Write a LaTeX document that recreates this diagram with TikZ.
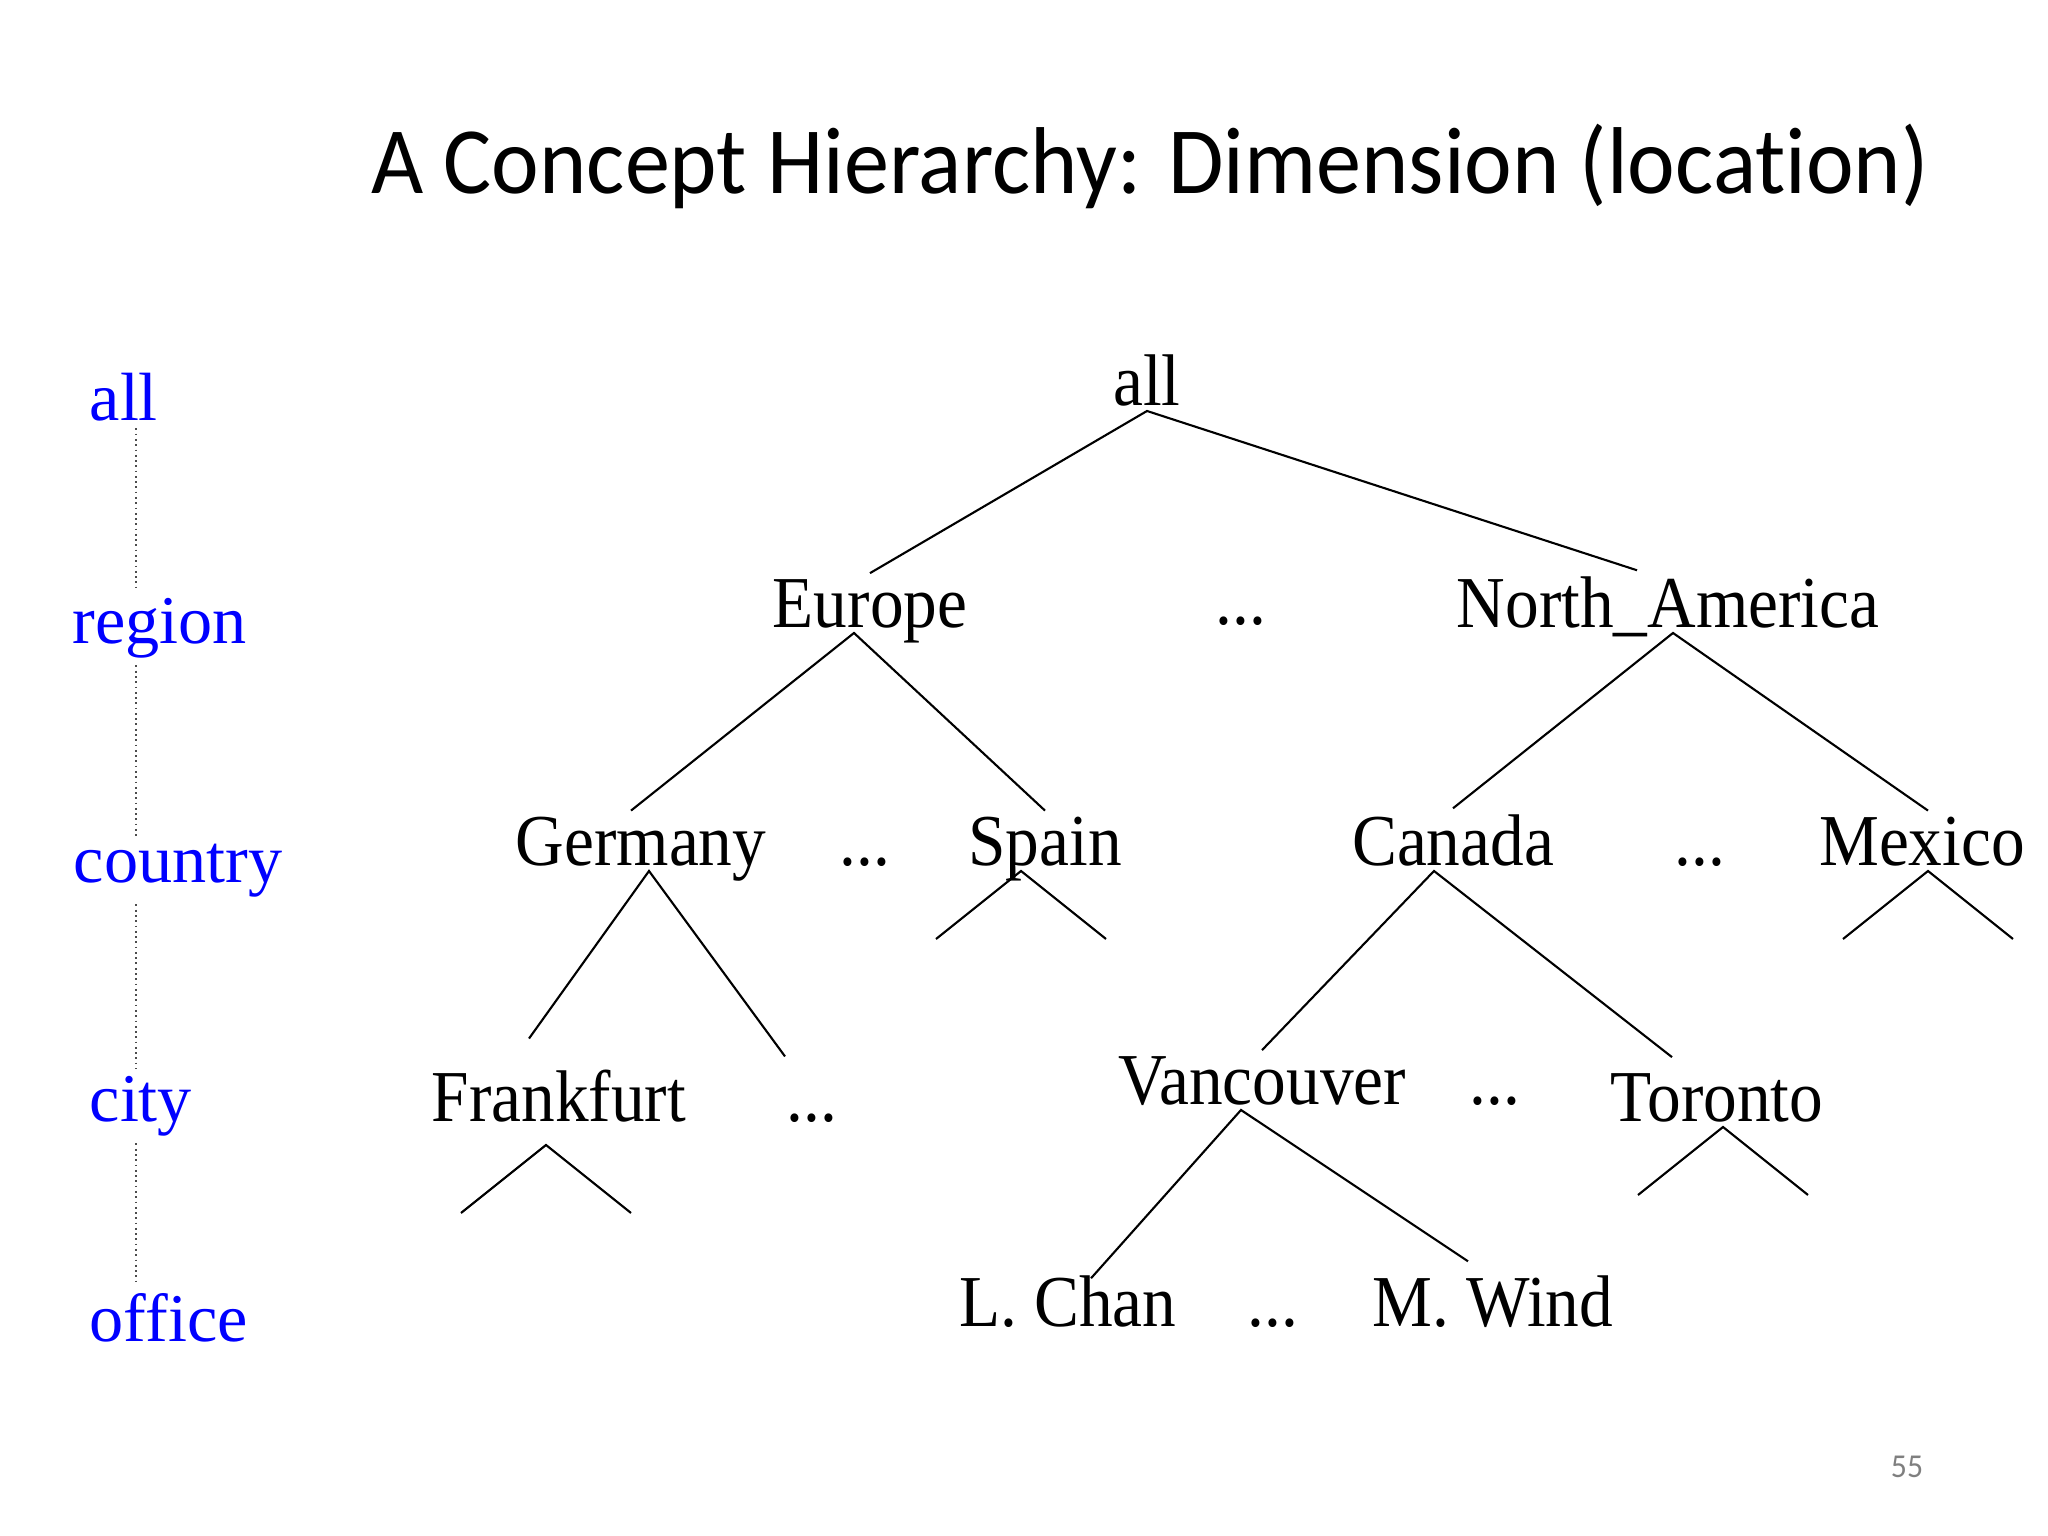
\documentclass[tikz,border=0pt]{standalone}
\usepackage{fontspec}
\setmainfont{Liberation Serif}
\newfontfamily\treefont[FakeStretch=0.92]{Liberation Serif}
\newfontfamily\titlefont[FakeStretch=0.95, Ligatures=NoCommon]{Carlito}
\usetikzlibrary{calc}
\definecolor{levelblue}{HTML}{0000FF}
\definecolor{pagegray}{HTML}{7F7F7F}
\tikzset{
  loc/.style={font=\treefont\fontsize{20.8}{25}\selectfont, anchor=base, inner sep=1.5pt, text depth=0pt},
  dimlabel/.style={font=\fontsize{19.4}{23}\selectfont, text=levelblue, anchor=base west, inner sep=2pt},
  branch/.style={line width=0.6pt},
  levellink/.style={densely dotted, line width=0.5pt, black!70},
}

\begin{document}
\begin{tikzpicture}[x=0.01cm, y=-0.01cm]
  \useasboundingbox (0,0) rectangle (2048,1536);
  \node[font=\titlefont\fontsize{27}{32}\selectfont, anchor=base] (title) at (1150,193) {A Concept Hierarchy: Dimension (location)};

  \node[dimlabel] (lall) at (82,420) {all};
  \node[dimlabel] (lreg) at (65,643) {region};
  \node[dimlabel] (lcty) at (66,882) {country};
  \node[dimlabel] (lcit) at (82,1121) {city};
  \node[dimlabel] (loff) at (82,1341) {office};
  \coordinate (dotx) at (136,0);
  \foreach \a/\b in {lall/lreg, lreg/lcty, lcty/lcit, lcit/loff}
    \draw[levellink] (\a.south -| dotx) -- (\b.north -| dotx);

  \node[loc] (all) at (1147,405) {all};
  \node[loc] (eu) at (870,627) {Europe};
  \node[loc] (dreg) at (1241,624) {...};
  \node[loc] (na) at (1668,627) {North\_America};
  \node[loc] (de) at (641,865) {Germany};
  \node[loc] (dcty1) at (865,865) {...};
  \node[loc] (es) at (1045,865) {Spain};
  \node[loc] (ca) at (1453,865) {Canada};
  \node[loc] (dcty2) at (1700,865) {...};
  \node[loc] (mx) at (1922,865) {Mexico};
  \node[loc] (ff) at (559,1121) {Frankfurt};
  \node[loc] (dcit1) at (812,1121) {...};
  \node[loc] (va) at (1262,1104) {Vancouver};
  \node[loc] (dcit2) at (1495,1104) {...};
  \node[loc] (to) at (1717,1121) {Toronto};
  \node[loc] (lc) at (1068,1326) {L. Chan};
  \node[loc] (doff) at (1273,1326) {...};
  \node[loc] (mw) at (1493,1326) {M. Wind};

  \draw[branch] (eu.north) -- (all.south) -- ($(na.north)+(-31,0)$);
  \draw[branch] ($(de.north)+(-10,0)$) -- ($(eu.south)+(-16,0)$) -- (es.north);
  \draw[branch] (ca.north) -- ($(na.south)+(5,0)$) -- ($(mx.north)+(6,0)$);
  \draw[branch] ($(ff.north)+(-30,-25)$) -- ($(de.south)+(8,0)$) -- ($(dcit1.north)+(-27,-51)$);
  \draw[branch] (va.north) -- ($(ca.south)+(-19,0)$) -- ($(to.north)+(-45,-10)$);
  \draw[branch] ($(lc.north)+(23,9)$) -- ($(va.south)+(-21,0)$) -- ($(mw.north)+(-25,-8)$);
  \foreach \n/\dx/\dy in {es/-24/0, mx/6/0, ff/-13/18, to/6/0}
    \draw[branch] ($(\n.south)+(\dx,\dy)+(-85,68)$) -- ($(\n.south)+(\dx,\dy)$) -- ($(\n.south)+(\dx,\dy)+(85,68)$);

  \node[font=\titlefont\fontsize{9.5}{11}\selectfont, text=pagegray] (page) at (1907,1467) {55};
\end{tikzpicture}
\end{document}
